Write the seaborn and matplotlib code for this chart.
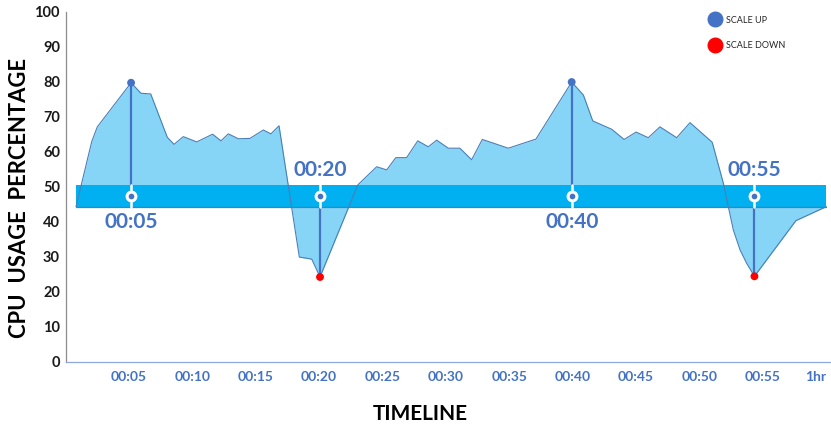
import numpy as np
import pandas as pd
import matplotlib
matplotlib.use("Agg")
import matplotlib.pyplot as plt
from matplotlib.lines import Line2D
import seaborn as sns

# CPU usage over one hour (minutes since start, percent)
minutes = [0.83, 2.07, 2.51, 5.17, 5.95, 6.72, 8.03, 8.56, 9.29, 10.35, 11.6, 12.26,
           12.84, 13.63, 14.55, 15.6, 16.2, 16.84, 18.44, 19.42, 20.07, 23.05, 24.54,
           25.33, 26.05, 26.9, 27.78, 28.61, 29.27, 30.19, 31.1, 32.03, 32.87, 34.92,
           37.1, 39.92, 40.84, 41.58, 43.08, 44.05, 45.0, 45.96, 46.88, 48.2, 49.25,
           51.0, 51.88, 52.27, 52.67, 53.2, 53.72, 54.33, 57.6, 60.0]
cpu = [44.3, 62.9, 67.1, 79.7, 76.7, 76.5, 64.1, 62.1, 64.3, 62.8, 65.0, 63.1,
       65.1, 63.7, 63.8, 66.2, 65.1, 67.4, 29.9, 29.3, 24.2, 50.5, 55.7,
       54.8, 58.3, 58.3, 63.1, 61.4, 63.3, 61.0, 61.0, 57.7, 63.5, 61.0,
       63.6, 79.9, 76.2, 68.8, 66.4, 63.5, 65.6, 64.0, 67.1, 64.0, 68.3,
       62.7, 51.0, 44.3, 37.6, 31.9, 28.1, 24.4, 40.3, 44.3]

# Target band for autoscaling
band_low = 44.3
band_high = 50.5

# Scaling events
event_minutes = [5.17, 20.07, 39.92, 54.33]
event_labels = ["00:05", "00:20", "00:40", "00:55"]
event_kinds = ["SCALE UP", "SCALE DOWN", "SCALE UP", "SCALE DOWN"]

tick_minutes = [5, 10, 15, 20, 25, 30, 35, 40, 45, 50, 55, 60]
tick_labels = ["00:05", "00:10", "00:15", "00:20", "00:25", "00:30", "00:35",
               "00:40", "00:45", "00:50", "00:55", "1hr"]

BLUE = "#4472C4"
RED = "#FF0000"
FILL = "#86D5F6"
BAND = "#00B0F0"
EDGE = "#4A7FB5"

sns.set_theme(style="white")
plt.rcParams["font.family"] = ["Lato", "DejaVu Sans"]

df = pd.DataFrame({"minute": minutes, "cpu": cpu})
events = pd.DataFrame({"minute": event_minutes, "label": event_labels, "kind": event_kinds})
events["cpu"] = np.interp(events["minute"], df["minute"], df["cpu"])

fig = plt.figure(figsize=(8.31, 4.26), dpi=100)
ax = fig.add_axes([65.5 / 831, 64.3 / 426, 764.5 / 831, 350 / 426])

# usage area measured against the bottom of the band
ax.fill_between(df["minute"], df["cpu"], band_low, color=FILL, lw=0, zorder=1)
x0, x1 = df["minute"].iloc[0], df["minute"].iloc[-1]
ax.fill_between([x0, x1], band_low, band_high, color=BAND, lw=0, zorder=2)
ax.plot([x0, x1], [band_low, band_low], color=EDGE, lw=0.9, zorder=3)
sns.lineplot(data=df, x="minute", y="cpu", ax=ax, color=EDGE, lw=0.8,
             sort=False, estimator=None, zorder=3)

mid = (band_low + band_high) / 2
for _, ev in events.iterrows():
    if ev["kind"] == "SCALE UP":
        ax.plot([ev["minute"]] * 2, [ev["cpu"], band_high], color=BLUE, lw=1.6, zorder=4)
        label_y, va = band_low - 1.5, "top"
    else:
        ax.plot([ev["minute"]] * 2, [ev["cpu"], band_low], color=BLUE, lw=1.6, zorder=4)
        label_y, va = band_high + 1.5, "bottom"
    ax.plot([ev["minute"]] * 2, [band_low, band_high], color="white", lw=1.8, zorder=4)
    ax.text(ev["minute"], label_y, ev["label"], color=BLUE, fontsize=15,
            fontweight="bold", ha="center", va=va, zorder=5)

# ring markers on the band
ax.scatter(events["minute"], [mid] * len(events), s=40, color=BLUE,
           edgecolor="white", linewidth=2.2, zorder=6)
# scale up / scale down points
sns.scatterplot(data=events, x="minute", y="cpu", hue="kind",
                palette={"SCALE UP": BLUE, "SCALE DOWN": RED}, s=32,
                edgecolor="none", ax=ax, zorder=6, legend=False)

ax.set_xlim(0, 60.29)
ax.set_ylim(0, 100)
ax.set_xticks(tick_minutes)
ax.set_xticklabels(tick_labels)
ax.set_yticks(range(0, 101, 10))
ax.tick_params(axis="x", direction="in", length=6, width=0.8, color="#8EA9DB",
               pad=7, labelsize=10, labelcolor=BLUE)
ax.tick_params(axis="y", direction="in", length=4.5, width=0.8, color="#8C8C8C",
               pad=4, labelsize=10.5, labelcolor="#1A1A1A")
for lab in ax.get_xticklabels() + ax.get_yticklabels():
    lab.set_fontweight("bold")
ax.get_xticklabels()[-1].set_horizontalalignment("right")
for side in ["top", "right"]:
    ax.spines[side].set_visible(False)
ax.spines["left"].set_color("#8C8C8C")
ax.spines["bottom"].set_color("#8EA9DB")
ax.spines["left"].set_linewidth(0.9)
ax.spines["bottom"].set_linewidth(0.9)

ax.set_xlabel("TIMELINE", fontsize=15, fontweight="bold", color="black")
ax.xaxis.set_label_coords(0.4637, -0.122)
ax.set_ylabel("CPU  USAGE  PERCENTAGE", fontsize=15.8, fontweight="bold", color="black")
ax.yaxis.set_label_coords(-0.0464, 0.469)

handles = [Line2D([], [], marker="o", linestyle="", markersize=10.5, color=BLUE),
           Line2D([], [], marker="o", linestyle="", markersize=10.5, color=RED)]
fig.legend(handles, ["SCALE UP", "SCALE DOWN"], loc="upper left",
           bbox_to_anchor=(705 / 831, 1 - 11 / 426), frameon=False, fontsize=6.5,
           borderpad=0, handlelength=1.2, handletextpad=0.6, labelspacing=1.8)

fig.savefig("out.png", dpi=100)
